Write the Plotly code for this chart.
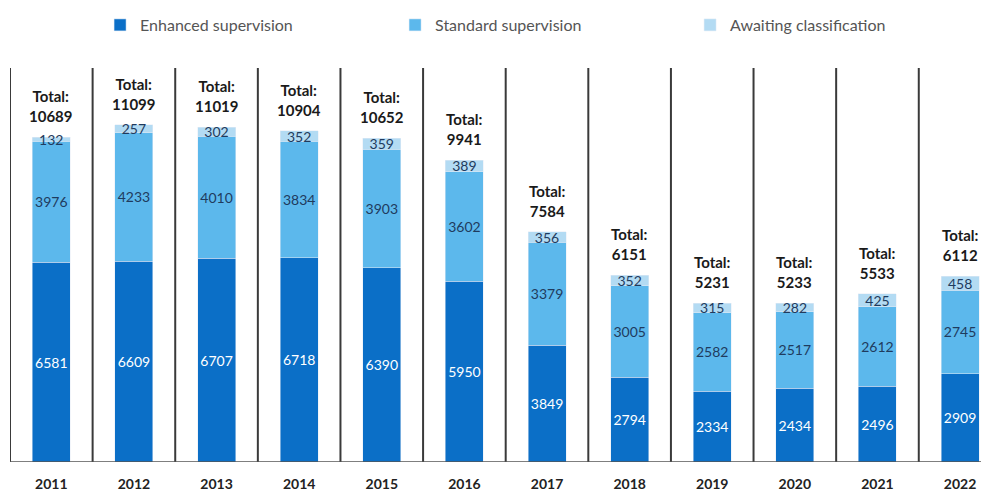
import plotly.graph_objects as go

years = ["2011", "2012", "2013", "2014", "2015", "2016", "2017", "2018", "2019", "2020", "2021", "2022"]
enhanced = [6581, 6609, 6707, 6718, 6390, 5950, 3849, 2794, 2334, 2434, 2496, 2909]
standard = [3976, 4233, 4010, 3834, 3903, 3602, 3379, 3005, 2582, 2517, 2612, 2745]
awaiting = [132, 257, 302, 352, 359, 389, 356, 352, 315, 282, 425, 458]
totals = [10689, 11099, 11019, 10904, 10652, 9941, 7584, 6151, 5231, 5233, 5533, 6112]

FONT = "Lato"
C_ENH = "#0b6fc7"
C_STD = "#5cb8ec"
C_AWT = "#b3dbf3"
LBL_DARK = "#1f3b5e"

fig = go.Figure()
for vals, name, col, tcol in [(enhanced, "Enhanced supervision", C_ENH, "white"),
                              (standard, "Standard supervision", C_STD, LBL_DARK),
                              (awaiting, "Awaiting classification", C_AWT, LBL_DARK)]:
    fig.add_trace(go.Bar(x=years, y=vals, name=name, marker_color=col,
                         text=[str(v) for v in vals], textposition="inside", insidetextanchor="middle",
                         textangle=0, constraintext="none",
                         insidetextfont=dict(color=tcol, size=14, family=FONT)))

for i, t in enumerate(totals):
    fig.add_annotation(x=i, y=t, xref="x", yref="y", text=f"<b>Total:<br>{t}</b>", showarrow=False,
                       yanchor="bottom", yshift=10, font=dict(size=15, color="#1a1a1a", family=FONT))

shapes = []
for i in range(len(years)):
    shapes.append(dict(type="line", xref="x", yref="paper", x0=i - 0.5, x1=i - 0.5, y0=0, y1=1,
                       line=dict(color="#3a3a3a", width=2)))
shapes.append(dict(type="line", xref="paper", yref="y", x0=0, x1=1, y0=0, y1=0,
                   line=dict(color="#555", width=1.5)))

fig.update_layout(
    width=981, height=485,
    margin=dict(l=2, r=0, t=57, b=31),
    barmode="stack", bargap=0.54,
    plot_bgcolor="white", paper_bgcolor="white",
    font=dict(family=FONT, size=14, color="#333"),
    uniformtext=dict(minsize=14, mode="show"),
    shapes=shapes,
    showlegend=True,
    legend=dict(orientation="h", x=0.092, y=1.11, xanchor="left", yanchor="middle",
                entrywidth=250, entrywidthmode="pixels", traceorder="normal",
                font=dict(size=16, color="#555", family=FONT)),
    xaxis=dict(type="category", range=[-0.5, 11.35], showgrid=False, showline=False, ticks="",
               tickfont=dict(size=14, color="#222", family=FONT), automargin=False,
               ticklabelstandoff=12, tickprefix="<b>", ticksuffix="</b>"),
    yaxis=dict(range=[0, 12970], visible=False, showgrid=False),
)

fig.write_html("out.html")
